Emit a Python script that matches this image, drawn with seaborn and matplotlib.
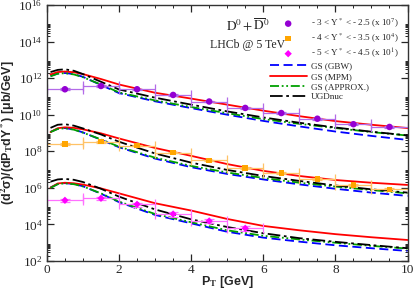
import numpy as np
import pandas as pd
import matplotlib
matplotlib.use("Agg")
import matplotlib.pyplot as plt
import seaborn as sns
from matplotlib.ticker import FixedLocator, MultipleLocator, NullFormatter, LogFormatterSciNotation

# pT grid of the model curves
pt_curve = [0.1, 0.3, 0.5, 0.75, 1, 1.5, 2, 3, 4, 5, 6, 7, 8, 9, 10]

# log10 of the plotted (scaled) values
# bin 1: -3 < Y* < -2.5 (x 1e7)
gbw_1 = [12.12, 12.25, 12.28, 12.22, 12.07, 11.62, 11.18, 10.73, 10.36, 10.0, 9.66, 9.36, 9.08, 8.84, 8.62]
mpm_1 = [12.2, 12.33, 12.36, 12.32, 12.22, 11.95, 11.65, 11.2, 10.88, 10.55, 10.22, 9.92, 9.65, 9.45, 9.27]
approx_1 = [12.1, 12.24, 12.27, 12.2, 12.05, 11.65, 11.22, 10.78, 10.42, 10.08, 9.76, 9.5, 9.27, 9.05, 8.86]
ugd_1 = [12.33, 12.45, 12.48, 12.4, 12.22, 11.8, 11.38, 10.93, 10.55, 10.18, 9.85, 9.56, 9.3, 9.07, 8.87]
# bin 2: -4 < Y* < -3.5 (x 1e4)
gbw_2 = [9.06, 9.23, 9.27, 9.19, 9.03, 8.63, 8.22, 7.6, 7.13, 6.76, 6.46, 6.19, 5.95, 5.74, 5.56]
mpm_2 = [9.05, 9.26, 9.31, 9.28, 9.2, 8.98, 8.7, 8.18, 7.75, 7.3, 6.93, 6.65, 6.43, 6.28, 6.16]
approx_2 = [9.05, 9.22, 9.26, 9.18, 9.02, 8.65, 8.25, 7.65, 7.2, 6.84, 6.54, 6.28, 6.07, 5.88, 5.7]
ugd_2 = [9.28, 9.45, 9.48, 9.4, 9.25, 8.92, 8.52, 7.88, 7.38, 6.98, 6.65, 6.38, 6.13, 5.92, 5.74]
# bin 3: -5 < Y* < -4.5 (x 1e1)
gbw_3 = [6.02, 6.21, 6.26, 6.21, 6.09, 5.68, 5.22, 4.52, 4.06, 3.6, 3.28, 3.06, 2.86, 2.7, 2.55]
mpm_3 = [6.01, 6.24, 6.28, 6.25, 6.18, 5.97, 5.7, 5.16, 4.76, 4.3, 3.92, 3.68, 3.47, 3.3, 3.15]
approx_3 = [6.0, 6.2, 6.25, 6.2, 6.08, 5.7, 5.25, 4.57, 4.12, 3.68, 3.38, 3.18, 3.0, 2.83, 2.68]
ugd_3 = [6.34, 6.46, 6.49, 6.44, 6.32, 5.95, 5.52, 4.82, 4.28, 3.86, 3.52, 3.25, 3.05, 2.87, 2.7]

# LHCb data
pt_data = [0.5, 1.5, 2.5, 3.5, 4.5, 5.5, 6.5, 7.5, 8.5, 9.5]
lhcb_1 = [11.39, 11.57, 11.39, 11.08, 10.72, 10.37, 10.09, 9.78, 9.48, 9.33]
lhcb_2 = [8.40, 8.53, 8.31, 7.93, 7.5, 7.1, 6.8, 6.47, 6.16, 5.92]
lhcb_3 = [5.32, 5.43, 5.10, 4.57, 4.19, 3.79]
rel_err_1 = [0.12, 0.12, 0.1, 0.1, 0.1, 0.1, 0.1, 0.12, 0.12, 0.15]
rel_err_2 = [0.12, 0.12, 0.1, 0.1, 0.1, 0.1, 0.1, 0.12, 0.12, 0.15]
rel_err_3 = [0.2, 0.2, 0.25, 0.3, 0.25, 0.3]

data_labels = [r"- 3 < Y$^*$ < - 2.5 (x 10$^7$)",
               r"- 4 < Y$^*$ < - 3.5 (x 10$^4$)",
               r"- 5 < Y$^*$ < - 4.5 (x 10$^1$)"]
model_names = ["GS (GBW)", "GS (MPM)", "GS (APPROX.)", "UGDnuc"]

sns.set_style("ticks")
plt.rcParams['font.family'] = ['Liberation Serif', 'DejaVu Serif']
plt.rcParams['mathtext.fontset'] = 'stix'

fig, ax = plt.subplots(figsize=(4.15, 2.91), dpi=100)
fig.subplots_adjust(left=0.113, right=0.982, bottom=0.103, top=0.983)

model_colors = ["#0000ff", "#ff0000", "#00a000", "#000000"]
model_dashes = [(5, 2.5), (1, 0), (5, 1.5, 1, 1.5, 1, 1.5), (7, 2, 1.5, 2)]
curves = [[gbw_1, mpm_1, approx_1, ugd_1],
          [gbw_2, mpm_2, approx_2, ugd_2],
          [gbw_3, mpm_3, approx_3, ugd_3]]

model_handles = []
for b, group in enumerate(curves):
    for m, vals in enumerate(group):
        sns.lineplot(x=pt_curve, y=10 ** np.array(vals), ax=ax,
                     color=model_colors[m], lw=1.3, estimator=None, sort=False)
        line = ax.lines[-1]
        line.set_dashes(model_dashes[m]) if m != 1 else line.set_linestyle('-')
        if b == 0:
            model_handles.append(line)

data_sets = [lhcb_1, lhcb_2, lhcb_3]
data_errs = [rel_err_1, rel_err_2, rel_err_3]
data_colors = ["#9400d3", "#ffa500", "#ff00ff"]
err_colors = ["#b36be8", "#ffc266", "#ff70ff"]
data_markers = ["o", "s", "D"]
data_sizes = [22, 16, 14]
data_handles = []
for d, vals in enumerate(data_sets):
    x = pt_data[:len(vals)]
    y = 10 ** np.array(vals)
    e = np.array(data_errs[d])
    ax.errorbar(x, y, xerr=0.5, yerr=y * e, fmt='none', ecolor=err_colors[d],
                elinewidth=0.9, capsize=3.5, capthick=0.9)
    sns.scatterplot(x=x, y=y, ax=ax, color=data_colors[d], marker=data_markers[d],
                    s=data_sizes[d], edgecolor='none', zorder=5)
    data_handles.append(ax.collections[-1])

ax.set_yscale('log')
ax.set_xlim(0, 10)
ax.set_ylim(1e2, 1e16)

ax.yaxis.set_major_locator(FixedLocator([10.0 ** k for k in range(2, 17, 2)]))
ax.yaxis.set_major_formatter(LogFormatterSciNotation())
ax.yaxis.set_minor_locator(FixedLocator([m * 10.0 ** k for k in range(2, 16, 2) for m in range(2, 10)]))
ax.yaxis.set_minor_formatter(NullFormatter())
ax.xaxis.set_major_locator(MultipleLocator(2))
ax.xaxis.set_minor_locator(MultipleLocator(0.5))

ax.tick_params(which='both', direction='in', top=True, right=True, labelsize=9.5, pad=3)
ax.tick_params(axis='x', pad=2)
ax.tick_params(which='major', length=5, width=0.9)
ax.tick_params(which='minor', length=2.5, width=0.7)
for sp in ax.spines.values():
    sp.set_linewidth(1.0)
    sp.set_color('#333333')

ax.set_xlabel(r"P$_{\bf T}$ [GeV]", family='Liberation Sans', fontweight='bold', fontsize=9, labelpad=-1)
ax.set_ylabel(r"(d$^{\bf 2}$σ)/(dP$_{\bf T}$dY$^{\bf *}$) [μb/GeV]", family='Liberation Sans',
              fontweight='bold', fontsize=9, labelpad=1)

fig.text(248 / 415, 1 - 26 / 291, r"$\mathrm{D}^0 + \overline{\mathrm{D}}^0$", ha='center', va='center', fontsize=9.5)
fig.text(248 / 415, 1 - 45 / 291, "LHCb @ 5 TeV", ha='center', va='center', fontsize=8.5)

leg = ax.legend(data_handles + model_handles, data_labels + model_names,
                loc='upper left', bbox_to_anchor=(268 / 415, 1 - 15 / 291), bbox_transform=fig.transFigure,
                frameon=False, fontsize=6.6, handlelength=4.0, handletextpad=0.5,
                labelspacing=0.2, borderpad=0.2, borderaxespad=0)

fig.savefig("out.png", dpi=100)
